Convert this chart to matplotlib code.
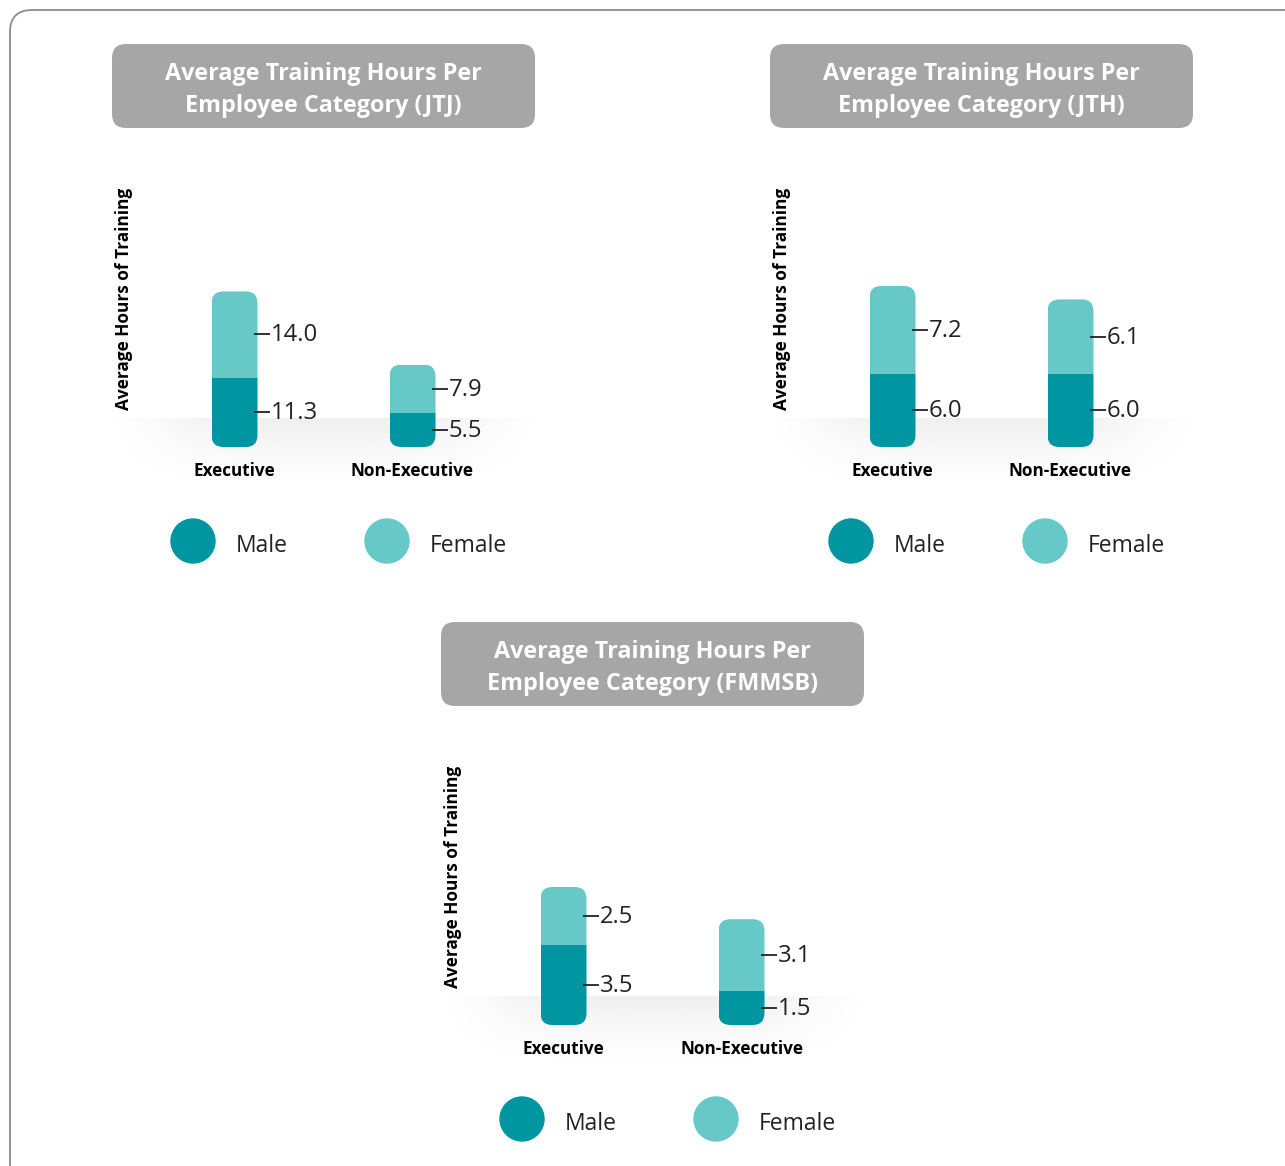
import numpy as np
import matplotlib.pyplot as plt
from matplotlib.patches import FancyBboxPatch, Circle

plt.rcParams['font.family'] = ['Open Sans', 'DejaVu Sans']

W, H = 1285, 1166

# data
categories = ["Executive", "Non-Executive"]
legend_labels = ["Male", "Female"]
ylabel = "Average Hours of Training"

jtj_male = [11.3, 5.5]
jtj_female = [14.0, 7.9]
jth_male = [6.0, 6.0]
jth_female = [7.2, 6.1]
fmmsb_male = [3.5, 1.5]
fmmsb_female = [2.5, 3.1]

titles = ["Average Training Hours Per\nEmployee Category (JTJ)",
          "Average Training Hours Per\nEmployee Category (JTH)",
          "Average Training Hours Per\nEmployee Category (FMMSB)"]

dark = "#0096a1"
light = "#67c8c8"
box_grey = "#a6a6a6"
txt = "#222222"

# layout: (x offset, y offset, pixels per hour) for each panel
panels = [
    (titles[0], jtj_male, jtj_female, 0, 0, 6.15),
    (titles[1], jth_male, jth_female, 658, 0, 12.2),
    (titles[2], fmmsb_male, fmmsb_female, 329, 578, 23.0),
]

fig = plt.figure(figsize=(W / 100, H / 100), dpi=100)
bg = fig.add_axes([0, 0, 1, 1])
bg.axis('off')

# outer frame
bg.add_patch(FancyBboxPatch((10, 10), 1400, 1400,
                            boxstyle="round,pad=0,rounding_size=22",
                            fc='white', ec='#8c8c8c', lw=1.3))

spacing = 178.0      # px between the two bars
bar_px = 46.0
ax_h = 200.0

for title, male, female, dx, dy, scale in panels:
    base = 447 + dy
    cx0 = 234.5 + dx
    left = cx0 - spacing / 2
    width = 2 * spacing

    # title box
    bg.add_patch(FancyBboxPatch((112 + dx, 44 + dy), 423, 84,
                                boxstyle="round,pad=0,rounding_size=14",
                                fc=box_grey, ec='none'))
    bg.text(323.5 + dx, 90 + dy, title, ha='center', va='center', color='white',
            fontsize=16.8, fontweight='bold', linespacing=1.42)

    # y label
    bg.text(124 + dx, 299 + dy, ylabel, rotation=90, ha='center', va='center',
            fontsize=12.4, fontweight='bold', color='black')

    # floor shadow
    x0, x1 = left - 36, left + width + 36
    y0, y1 = base - 29, base + 48
    nx, ny = 300, 90
    u = np.linspace(-1, 1, nx)
    t = np.linspace(0, 1, ny)
    ax_fade = np.exp(-(np.abs(u) / 0.75) ** 4)
    ay_fade = 0.085 * (1 - t) ** 1.6
    alpha = ay_fade[:, None] * ax_fade[None, :]
    img = np.zeros((ny, nx, 4))
    img[..., :3] = 0.25
    img[..., 3] = alpha
    bg.imshow(img, extent=(x0, x1, y1, y0), aspect='auto', interpolation='bilinear', zorder=1)

    # legend
    for k, (lab, col) in enumerate(zip(legend_labels, [dark, light])):
        cx = 193 + dx + k * 194
        cy = 541 + dy
        bg.add_patch(Circle((cx, cy), 22, color=col, zorder=2))
        bg.text(cx + 43, cy + 5, lab, ha='left', va='center', fontsize=16.5, color=txt)

    # bars
    ax = fig.add_axes([left / W, 1 - base / H, width / W, ax_h / H])
    ax.set_xlim(-0.5, 1.5)
    ax.set_ylim(0, ax_h / scale)
    ax.axis('off')
    ax.patch.set_alpha(0)

    ux = 2.0 / width          # data x per px
    bw = bar_px * ux
    x = np.arange(len(categories))
    r_m = ax.bar(x, male, width=bw, color=dark, linewidth=0)
    r_f = ax.bar(x, female, width=bw, bottom=male, color=light, linewidth=0)
    for i in range(len(categories)):
        clip = FancyBboxPatch((x[i] - bw / 2, 0), bw, male[i] + female[i],
                              boxstyle="round,pad=0,rounding_size=%f" % (12 * ux),
                              mutation_aspect=(spacing / scale),
                              transform=ax.transData, fill=False, lw=0)
        ax.add_patch(clip)
        r_m[i].set_clip_path(clip)
        r_f[i].set_clip_path(clip)

        xr = x[i] + bw / 2
        for val, ymid in [(male[i], male[i] / 2),
                          (female[i], male[i] + female[i] / 2)]:
            ax.plot([xr - 4 * ux, xr + 12 * ux], [ymid, ymid], color=txt, lw=1.3,
                    solid_capstyle='butt', clip_on=False)
            ax.text(xr + 13 * ux, ymid - 1.0 / scale, "%.1f" % val, ha='left', va='center',
                    fontsize=17.2, color=txt, clip_on=False)

        ax.text(x[i], -24 / scale, categories[i], ha='center', va='center',
                fontsize=12.3, fontweight='bold', color='black', clip_on=False)

bg.set_xlim(0, W)
bg.set_ylim(H, 0)

fig.savefig("out.png", dpi=100, facecolor='white')
